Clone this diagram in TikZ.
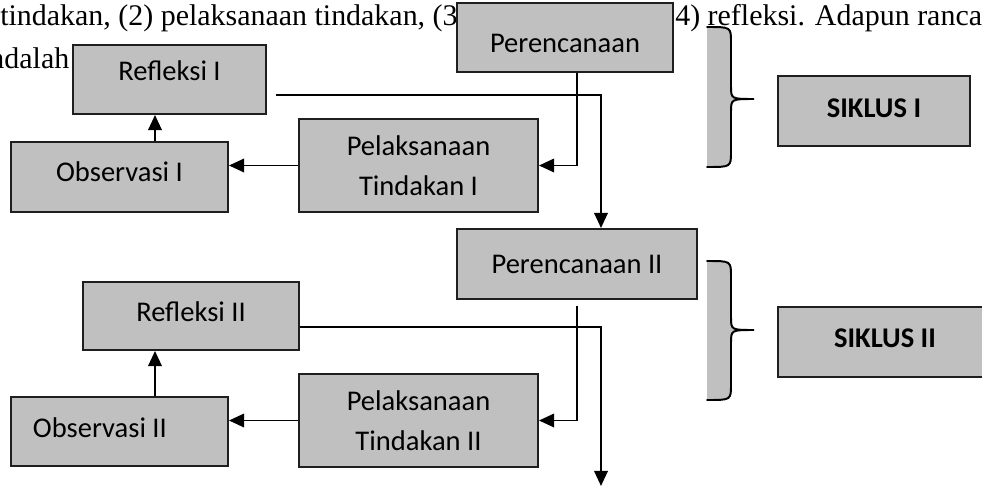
\documentclass[tikz,border=0pt]{standalone}
\usepackage{fontspec}
\setmainfont{Liberation Serif}
\newfontfamily\boxfont{Carlito}
\usetikzlibrary{arrows.meta}
\definecolor{boxgray}{HTML}{C0C0C0}
\definecolor{edgegray}{HTML}{1F1F1F}
\tikzset{
  body/.style={font=\fontsize{21.3}{30}\selectfont,inner sep=0,anchor=base west},
  stage/.style={rectangle,draw=edgegray,line width=1.4pt,fill=boxgray,inner sep=0,align=center,
                font=\boxfont\fontsize{20.3}{28.45}\selectfont},
  siklus/.style={stage,font=\boxfont\bfseries\fontsize{20.3}{28.45}\selectfont},
  % curly bracket beside each cycle, grey on its inner side
  brace/.style={line width=1.4pt,line cap=round},
  arrow/.style={-{Triangle[length=3.8mm,width=3.4mm]},line width=1.4pt},
}
\begin{document}
\begin{tikzpicture}
  \useasboundingbox (0,0) rectangle (24.55,-12.15);
  % running text behind the chart
  \node[body] (line1) at (0,-0.625) {tindakan, (2) pelaksanaan tindakan, (3};
  \node[body] (line1b) at (16.875,-0.625) {4) refleksi. Adapun ranca};
  \node[body] (line2) at (-0.27,-1.7) {ndalah};
  % Cycle I
  \node[stage,minimum width=5.4cm,minimum height=1.725cm,text height=0.76cm] (plan1) at (14.125,-0.9375) {Perencanaan};
  \node[stage,minimum width=4.825cm,minimum height=1.725cm,text depth=0.45cm] (refl1) at (4.2375,-1.9875) {Refleksi I};
  \node[stage,minimum width=5.425cm,minimum height=1.75cm,text depth=0.25cm] (obs1) at (2.9875,-4.425) {Observasi I};
  \node[stage,minimum width=5.975cm,minimum height=2.325cm] (act1) at (10.4625,-4.1375) {Pelaksanaan\\Tindakan I};
  % Cycle II
  \node[stage,minimum width=6cm,minimum height=1.75cm] (plan2) at (14.425,-6.6) {Perencanaan II};
  \node[stage,minimum width=5.4cm,minimum height=1.7cm,text depth=0.2cm] (refl2) at (4.775,-7.9) {Refleksi II};
  \node[stage,minimum width=5.425cm,minimum height=1.725cm,text depth=0.22cm] (obs2) at (2.9875,-10.7875) {Observasi II\hspace*{0.98cm}};
  \node[stage,minimum width=5.975cm,minimum height=2.325cm] (act2) at (10.4625,-10.5125) {Pelaksanaan\\Tindakan II};
  \coordinate (next) at (15.025,-12.15);
  % labels on the right
  \node[siklus,minimum width=4.8cm,minimum height=1.75cm,text depth=0.15cm] (cyc1) at (21.85,-2.775) {SIKLUS I};
  \node[siklus,minimum width=5.35cm,minimum height=1.75cm,text depth=0.2cm] (cyc2) at (22.125,-8.55) {SIKLUS II};
  \foreach \t/\m/\b in {-0.675/-2.475/-4.175,-6.525/-8.25/-10.0} {
    \fill[boxgray] (17.675,\t) .. controls (18.275,\t) .. (18.275,\t-0.375) -- (18.275,\m+0.325)
      .. controls (18.275,\m) .. (18.85,\m) .. controls (18.275,\m) .. (18.275,\m-0.325)
      -- (18.275,\b+0.375) .. controls (18.275,\b) .. (17.675,\b) -- cycle;
    \draw[brace] (17.675,\t) .. controls (18.275,\t) .. (18.275,\t-0.375) -- (18.275,\m+0.325)
      .. controls (18.275,\m) .. (18.85,\m) .. controls (18.275,\m) .. (18.275,\m-0.325)
      -- (18.275,\b+0.375) .. controls (18.275,\b) .. (17.675,\b);
  }
  % connectors
  \draw[arrow] ([xshift=0.3cm]plan1.south) |- (act1.east);
  \draw[arrow] (act1.west) -- (act1.west -| obs1.east);
  \draw[arrow] ([xshift=0.8875cm]obs1.north) -- ([xshift=0.8875cm]obs1.north |- refl1.south);
  \draw[arrow] ([xshift=0.225cm,yshift=-0.39cm]refl1.east) -| ([xshift=0.6cm]plan2.north);
  \draw[arrow] ([yshift=-0.15cm]plan2.south) |- (act2.east);
  \draw[arrow] (act2.west) -- (act2.west -| obs2.east);
  \draw[arrow] ([xshift=0.8875cm]obs2.north) -- ([xshift=0.8875cm]obs2.north |- refl2.south);
  \draw[arrow] ([yshift=-0.275cm]refl2.east) -| (next);
\end{tikzpicture}
\end{document}
